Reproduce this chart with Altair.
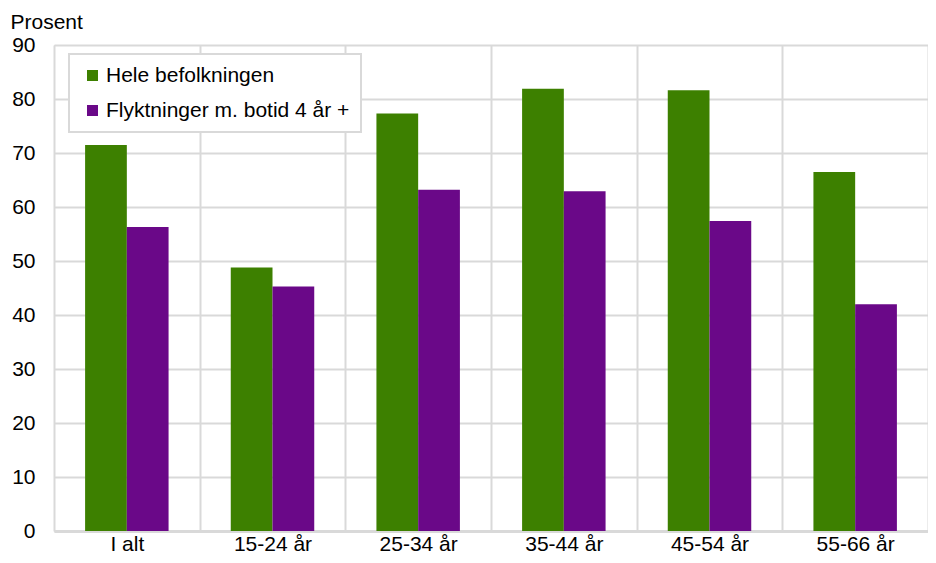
import altair as alt
import pandas as pd

categories = ["I alt", "15-24 år", "25-34 år", "35-44 år", "45-54 år", "55-66 år"]
series = ["Hele befolkningen", "Flyktninger m. botid 4 år +"]
hele = [71.5, 48.8, 77.3, 81.9, 81.6, 66.5]
flykt = [56.3, 45.3, 63.2, 62.9, 57.4, 42.0]
colors = ["#3d8000", "#6a0888"]
y_ticks = [0, 10, 20, 30, 40, 50, 60, 70, 80, 90]

rows = []
for c, a, b in zip(categories, hele, flykt):
    rows.append({"kat": c, "serie": series[0], "verdi": a})
    rows.append({"kat": c, "serie": series[1], "verdi": b})
df = pd.DataFrame(rows)

FONT = "Liberation Sans"
FS = 21

chart = alt.Chart(df).mark_bar().encode(
    x=alt.X("kat:N", sort=categories,
            scale=alt.Scale(paddingInner=0, paddingOuter=0),
            axis=alt.Axis(title=None, labelAngle=0, tickBand="extent", grid=True,
                          gridColor="#d9d9d9", gridWidth=2, ticks=False,
                          domainColor="#d9d9d9", domainWidth=3,
                          labelFontSize=FS, labelColor="#000000", labelFont=FONT,
                          labelPadding=2)),
    xOffset=alt.XOffset("serie:N", sort=series,
                        scale=alt.Scale(paddingInner=0, paddingOuter=0.745)),
    y=alt.Y("verdi:Q", scale=alt.Scale(domain=[0, 90], nice=False),
            axis=alt.Axis(values=y_ticks, title="Prosent", titleAngle=0,
                          titleAlign="left", titleBaseline="alphabetic",
                          titleX=-44, titleY=-17, titleFontSize=FS,
                          titleFontWeight="normal", titleFont=FONT, titleColor="#000000",
                          grid=True, gridColor="#d9d9d9", gridWidth=2,
                          ticks=False, domain=False, labelFontSize=FS,
                          labelColor="#000000", labelFont=FONT, labelPadding=19)),
    color=alt.Color("serie:N", sort=series,
                    scale=alt.Scale(domain=series, range=colors),
                    legend=alt.Legend(title=None, orient="none", legendX=15, legendY=9,
                                      symbolType="square", symbolSize=121,
                                      symbolStrokeWidth=0, symbolOffset=2,
                                      labelFontSize=FS, labelFont=FONT,
                                      labelColor="#000000", labelOffset=3,
                                      rowPadding=13, padding=11,
                                      fillColor="#ffffff", strokeColor="#d9d9d9",
                                      labelLimit=400)),
).properties(
    width=874, height=486,
    autosize=alt.AutoSizeParams(type="none"),
    padding={"left": 46, "top": 37, "right": 0, "bottom": 24},
).configure_view(stroke=None).configure(background="#ffffff").configure_legend(strokeWidth=2)

chart.save("out.html", embed_options={"renderer": "svg", "actions": False})
